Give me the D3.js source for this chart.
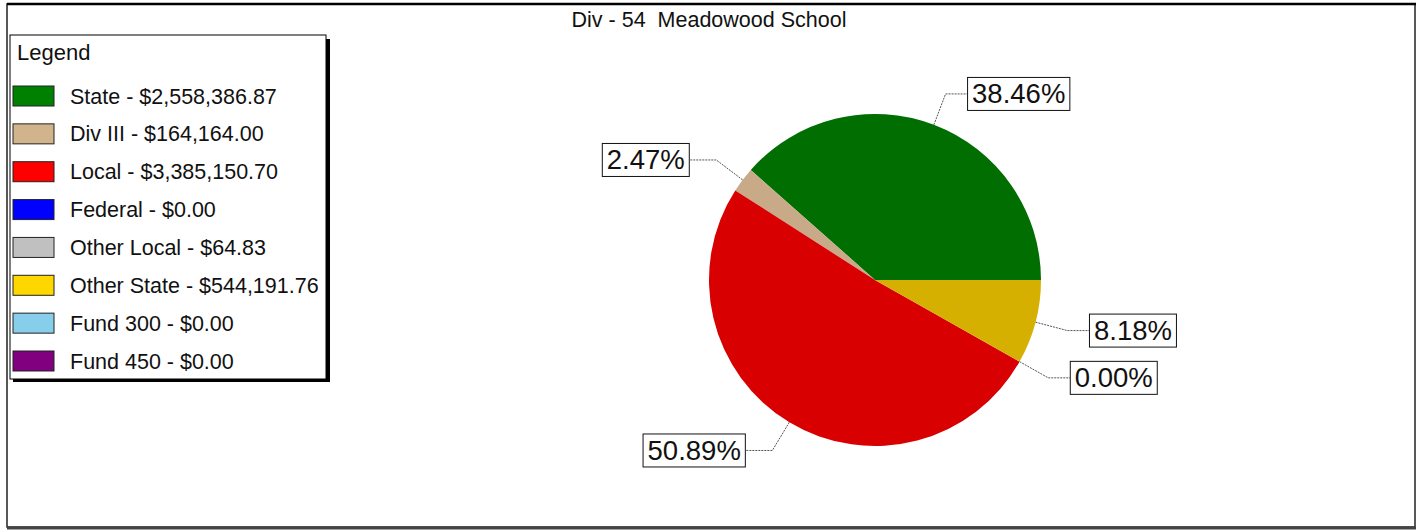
<!DOCTYPE html>
<html>
<head>
<meta charset="utf-8">
<script src="https://cdn.jsdelivr.net/npm/d3@7"></script>
<style>
  body { margin: 0; background: #fff; }
  svg text { font-family: "Liberation Sans", Arial, sans-serif; fill: #111; }
</style>
</head>
<body>
<svg id="chart" width="1418" height="531"></svg>
<script>
var title = "Div - 54  Meadowood School"
var categories = ["State", "Div III", "Local", "Federal", "Other Local", "Other State", "Fund 300", "Fund 450"]
var amounts = [2558386.87, 164164.00, 3385150.70, 0.00, 64.83, 544191.76, 0.00, 0.00]
var legendColors = ["#008000", "#d2b48c", "#ff0000", "#0000ff", "#c0c0c0", "#ffd700", "#87ceeb", "#800080"]
var sliceColors = ["#006e00", "#c8aa88", "#d80000", "#0000d8", "#a8a8a8", "#d5b000", "#70b0c8", "#6c006c"]

var svg = d3.select("#chart")

// outer frame
svg.append("rect").attr("x", 7).attr("y", 4).attr("width", 1408).attr("height", 523)
    .attr("fill", "none").attr("stroke", "#222").attr("stroke-width", 1.5)
svg.append("line").attr("x1", 7).attr("x2", 1416).attr("y1", 4).attr("y2", 4)
    .attr("stroke", "#000").attr("stroke-width", 2.5)
svg.append("line").attr("x1", 7).attr("x2", 1416).attr("y1", 528).attr("y2", 528)
    .attr("stroke", "#444").attr("stroke-width", 3)

svg.append("text").attr("x", 709).attr("y", 27).attr("text-anchor", "middle")
    .style("font-size", "21.5px").style("white-space", "pre").text(title)

// legend
var lg = svg.append("g")
lg.append("rect").attr("x", 13).attr("y", 39).attr("width", 317).attr("height", 343).attr("fill", "#000")
lg.append("rect").attr("x", 10).attr("y", 35).attr("width", 316).attr("height", 344)
    .attr("fill", "#fff").attr("stroke", "#000").attr("stroke-width", 1)
lg.append("text").attr("x", 17).attr("y", 60).style("font-size", "22px").text("Legend")

var fmt = d3.format(",.2f")
var rowY = d3.scalePoint().domain(categories).range([96, 361])
var rows = lg.selectAll(".row").data(categories).enter().append("g")
    .attr("transform", function(d) { return "translate(0," + rowY(d) + ")" })
rows.append("rect").attr("x", 13).attr("y", -10).attr("width", 41).attr("height", 20)
    .attr("fill", function(d, i) { return legendColors[i] })
    .attr("stroke", "#222").attr("stroke-width", 1)
rows.append("text").attr("x", 70).attr("y", 7.5).style("font-size", "21.5px")
    .text(function(d, i) { return d + " - $" + fmt(amounts[i]) })

// pie
var cx = 875, cy = 280, r = 166
var total = d3.sum(amounts)
var pie = d3.pie().sort(null).value(function(d) { return d })
    .startAngle(Math.PI / 2).endAngle(Math.PI / 2 - 2 * Math.PI)
var arcs = pie(amounts)
var arc = d3.arc().innerRadius(0).outerRadius(r)
var g = svg.append("g").attr("transform", "translate(" + cx + "," + cy + ")")
g.selectAll("path").data(arcs).enter().append("path")
    .attr("d", arc)
    .attr("fill", function(d, i) { return sliceColors[i] })

// labels
var labelled = arcs.filter(function(d) { return d.value > 0 })
labelled.forEach(function(d) {
    var mid = (d.startAngle + d.endAngle) / 2
    var p0 = [r * Math.sin(mid), -r * Math.cos(mid)]
    var p1 = [199 * Math.sin(mid), -199 * Math.cos(mid)]
    var right = p1[0] > 0
    var p2 = [p1[0] + (right ? 22 : -27), p1[1]]
    g.append("polyline")
        .attr("points", [p0, p1, p2].map(function(p) { return p.join(",") }).join(" "))
        .attr("fill", "none").attr("stroke", "#555").attr("stroke-width", 1)
        .attr("stroke-dasharray", "2,1")
    var txt = (d.value / total * 100).toFixed(2) + "%"
    var lab = g.append("g")
    var t = lab.append("text").attr("y", p2[1] + 9.5).style("font-size", "27.5px").text(txt)
    var w = t.node().getComputedTextLength() + 9
    var bx = right ? p2[0] : p2[0] - w
    t.attr("x", bx + 4.5)
    lab.insert("rect", "text").attr("x", bx).attr("y", p2[1] - 16.5)
        .attr("width", w).attr("height", 33)
        .attr("fill", "#fff").attr("stroke", "#111").attr("stroke-width", 1)
})
</script>
</body>
</html>
